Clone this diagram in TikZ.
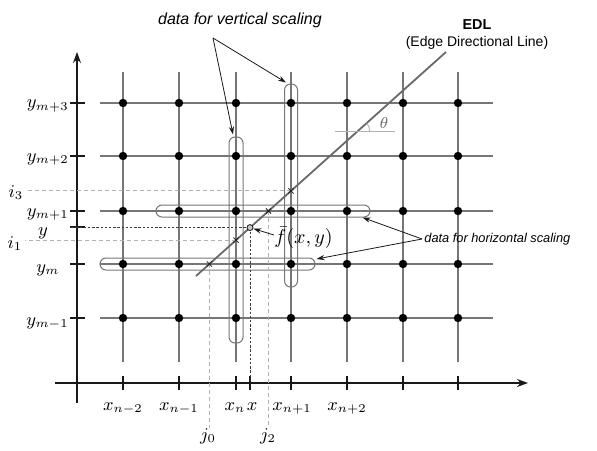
\documentclass[tikz,border=0pt]{standalone}
\usepackage{fontspec}
\usepackage{tikz}
\usetikzlibrary{positioning,arrows.meta,calc,shapes.misc}
\newfontfamily\helv{Liberation Sans}
\definecolor{gridgray}{RGB}{118,118,118}
\definecolor{edlgray}{RGB}{105,105,105}
\definecolor{ink}{RGB}{25,25,25}
\tikzset{
  axis/.style={draw=ink, line width=0.7pt},
  gridline/.style={draw=gridgray, line width=0.6pt},
  dot/.style={circle, fill=black, inner sep=0pt, minimum size=4.2pt},
  capsule/.style={draw=gridgray, line width=0.5pt, rounded corners=3pt, inner sep=0pt},
  guide/.style={draw=gray!60, line width=0.4pt, dash pattern=on 2pt off 1.5pt},
  darkguide/.style={draw=ink!85, line width=0.5pt, dash pattern=on 1.2pt off 0.9pt},
  edl/.style={draw=edlgray, line width=0.9pt},
  xmark/.style={cross out, draw=ink, minimum size=2.2pt, inner sep=0pt, line width=0.4pt},
  arrow/.style={-{Stealth[length=4pt,width=2.6pt]}, draw=ink, line width=0.4pt},
  txt/.style={font=\helv\itshape\fontsize{#1}{#1}\selectfont, inner sep=1pt},
  txt/.default={8},
  mlbl/.style={font=\fontsize{9}{11}\selectfont, inner sep=0pt, anchor=base},
  ylbl/.style={mlbl, anchor=base east}
}
\begin{document}
\begin{tikzpicture}[x=0.5pt,y=0.5pt]
  \useasboundingbox (0,0) rectangle (597,450);
  % axes
  \draw[axis, -{Stealth[length=5.5pt,width=4pt]}] (77,47) -- (77,398);
  \draw[axis, -{Stealth[length=5.5pt,width=4pt]}] (55,67) -- (528,67);
  \foreach \Y in {347,294,239,223,186,132}
    \draw[axis] (70,\Y) -- (85,\Y);
  \foreach \X in {123,179,236,250,291,347,403,458}
    \draw[axis] (\X,60) -- (\X,74);
  % grid
  \foreach \X in {123,179,236,291,347,403,458}
    \draw[gridline] (\X,88) -- (\X,378);
  \foreach \Y in {347,294,239,186,132}
    \draw[gridline] (100,\Y) -- (493,\Y);
  % scaling windows
  \node[capsule, minimum width=7pt, minimum height=103pt] (vcapA) at (236,210) {};
  \node[capsule, minimum width=6.5pt, minimum height=101.5pt] (vcapB) at (291,264.5) {};
  \node[capsule, minimum width=107pt, minimum height=6pt] (hcapA) at (263,239) {};
  \node[capsule, minimum width=107.5pt, minimum height=6pt] (hcapB) at (207.5,186) {};
  % edge directional line
  \coordinate (e0) at (196,174);
  \coordinate (e1) at (446,398);
  \draw[edl] (e0) -- (e1);
  \foreach \X in {123,179,236,291,347,403,458}
    \foreach \Y in {347,294,239,186,132}
      \node[dot] (d-\X-\Y) at (\X,\Y) {};
  \coordinate (p0) at ($(e0)!0.0536!(e1)$);
  \coordinate (p1) at ($(e0)!0.16!(e1)$);
  \coordinate (p2) at ($(e0)!0.29!(e1)$);
  \coordinate (p3) at ($(e0)!0.38!(e1)$);
  \coordinate (f) at ($(e0)!0.216!(e1)$);
  \coordinate (tc) at ($(e0)!0.647!(e1)$);
  % labels on the axes
  \node[ylbl] (ym3) at (69,342) {$y_{m+3}$};
  \node[ylbl] (ym2) at (69,289) {$y_{m+2}$};
  \node[ylbl] (ym1) at (69,234) {$y_{m+1}$};
  \node[mlbl] (yy) at (43,215) {$y$};
  \node[ylbl] (ym) at (60,178) {$y_m$};
  \node[ylbl] (ymm) at (69,125) {$y_{m-1}$};
  \node[mlbl] (i3) at (16,253) {$i_3$};
  \node[mlbl] (i1) at (15,202) {$i_1$};
  \node[mlbl] (xn2) at (123,40) {$x_{n-2}$};
  \node[mlbl] (xn1) at (179,40) {$x_{n-1}$};
  \node[mlbl] (xn) at (235,40) {$x_n$};
  \node[mlbl] (xx) at (252,40) {$x$};
  \node[mlbl] (xp1) at (292,40) {$x_{n+1}$};
  \node[mlbl] (xp2) at (347,40) {$x_{n+2}$};
  \node[mlbl] (j0) at (208,10) {$j_0$};
  \node[mlbl] (j2) at (268,10) {$j_2$};
  % projections
  \draw[guide] (p3) -- (25,0 |- p3);
  \draw[guide] (p1) -- (25,0 |- p1);
  \draw[guide] (p0) -- (p0 |- 0,22);
  \draw[guide] (p2) -- (p2 |- 0,22);
  \draw[darkguide] (f) -- (70,0 |- f);
  \draw[darkguide] (f) -- (f |- 0,67);
  \foreach \p in {p0,p1,p2,p3}
    \node[xmark] at (\p) {};
  \node[circle, draw=ink, fill=gray!45, line width=0.4pt, inner sep=0pt, minimum size=3pt] (fp) at (f) {};
  % angle
  \draw[draw=gray!60, line width=0.5pt] ($(tc)+(-23,0)$) -- ($(tc)+(37,0)$);
  \draw[draw=gray!70, line width=0.4pt] ($(tc)+(12,0)$) arc[start angle=0, end angle=41.9, radius=12];
  \node[font=\fontsize{8}{9}\selectfont, text=gray!80!black] (th) at (384,327) {$\theta$};
  % annotations
  \node[mlbl, anchor=west, font=\fontsize{10}{12}\selectfont] (flbl) at (274,212) {$\bar{f}(x,y)$};
  \draw[arrow] ($(flbl.west)+(0,3)$) -- (fp);
  \node[txt=8] (vlbl) at (240,430) {data for vertical scaling};
  \coordinate (vsrc) at (213,412);
  \draw[arrow] (vsrc) -- ($(vcapA.north)+(-3,2)$);
  \draw[arrow] (vsrc) -- ($(vcapB.north)+(-5,1)$);
  \node[txt=6.4, anchor=west] (hlbl) at (422,211) {data for horizontal scaling};
  \draw[arrow] (hlbl.west) -- ($(hcapA.south east)+(-8,0)$);
  \draw[arrow] (hlbl.west) -- ($(hcapB.east)+(1,5)$);
  \node[font=\helv\bfseries\fontsize{7.2}{8}\selectfont, inner sep=0pt] (edllbl) at (477,425) {EDL};
  \node[font=\helv\fontsize{7}{8}\selectfont, inner sep=0pt, below=3pt of edllbl] (edlfull) {(Edge Directional Line)};
\end{tikzpicture}
\end{document}
